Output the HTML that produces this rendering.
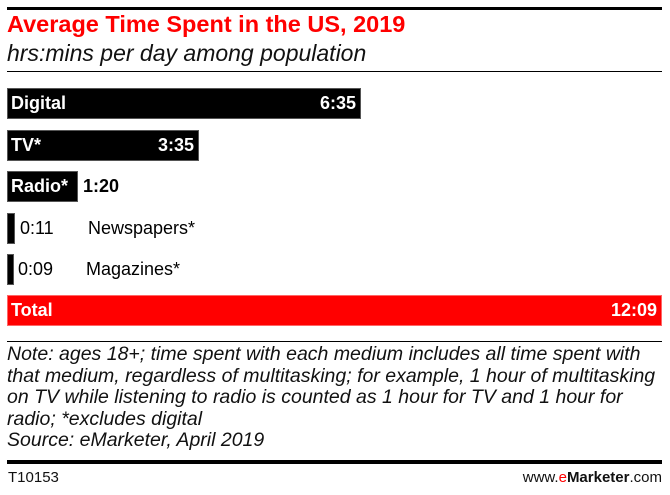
<!DOCTYPE html>
<html><head><meta charset="utf-8"><style>
body{margin:0;width:670px;height:495px;background:#fff;position:relative;font-family:"Liberation Sans",sans-serif;overflow:hidden}
.a{position:absolute}
.bar{position:absolute;left:7px;background:#000;border:1px solid #555;box-sizing:border-box;color:#fff;font-weight:bold;font-size:18px;line-height:28px}
.lbl{position:absolute;font-size:18px;color:#000;line-height:30px}
.note{font-style:italic;font-size:19.5px;line-height:21.5px;color:#111;white-space:nowrap}
</style></head><body>
<div class="a" style="left:7px;top:7px;width:655px;height:3px;background:#000"></div>
<div class="a" style="left:7px;top:11px;font-size:23.5px;font-weight:bold;color:#f00">Average Time Spent in the US, 2019</div>
<div class="a" style="left:7px;top:40px;font-size:23px;font-style:italic;color:#111">hrs:mins per day among population</div>
<div class="a" style="left:7px;top:71px;width:655px;height:1px;background:#000"></div>

<div class="bar" style="top:88px;width:354px;height:31px"><span style="position:absolute;left:3px">Digital</span><span style="position:absolute;right:4px">6:35</span></div>
<div class="bar" style="top:130px;width:192px;height:31px"><span style="position:absolute;left:3px">TV*</span><span style="position:absolute;right:4px">3:35</span></div>
<div class="bar" style="top:171px;width:71px;height:31px"><span style="position:absolute;left:3px">Radio*</span></div>
<div class="lbl" style="left:83px;top:171px;font-weight:bold">1:20</div>
<div class="bar" style="top:213px;width:8px;height:31px"></div>
<div class="lbl" style="left:20px;top:213px">0:11</div>
<div class="lbl" style="left:88px;top:213px">Newspapers*</div>
<div class="bar" style="top:254px;width:7px;height:31px"></div>
<div class="lbl" style="left:18px;top:254px">0:09</div>
<div class="lbl" style="left:86px;top:254px">Magazines*</div>
<div class="bar" style="top:295px;width:655px;height:31px;background:#f00;border-color:#f66"><span style="position:absolute;left:3px">Total</span><span style="position:absolute;right:4px">12:09</span></div>

<div class="a" style="left:7px;top:341px;width:655px;height:1px;background:#000"></div>
<div class="a note" style="left:7px;top:344px">Note: ages 18+; time spent with each medium includes all time spent with<br>that medium, regardless of multitasking; for example, 1 hour of multitasking<br>on TV while listening to radio is counted as 1 hour for TV and 1 hour for<br>radio; *excludes digital<br>Source: eMarketer, April 2019</div>
<div class="a" style="left:7px;top:460px;width:655px;height:4px;background:#000"></div>
<div class="a" style="left:8px;top:469px;font-size:15px;color:#111">T10153</div>
<div class="a" style="right:8px;top:469px;font-size:15px;color:#111">www.<b style="color:#f00;font-weight:normal">e</b><b>Marketer</b>.com</div>
</body></html>
